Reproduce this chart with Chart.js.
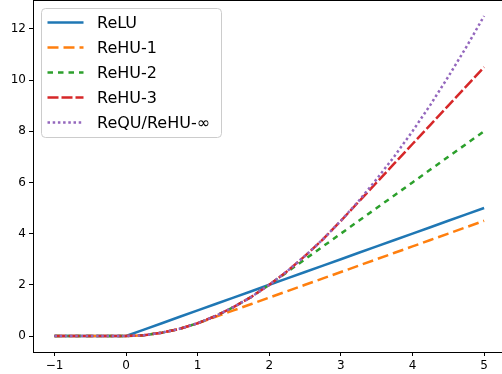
<!DOCTYPE html>
<html>
<head>
<meta charset="utf-8">
<script src="https://cdn.jsdelivr.net/npm/chart.js@4"></script>
<style>
  html, body { margin: 0; padding: 0; background: #fff; overflow: hidden; }
  #wrap { width: 502px; height: 374px; }
</style>
</head>
<body>
<div id="wrap"><canvas id="actChart" width="502" height="374"></canvas></div>
<script>
// x positions the curves were read at
var xs = [-1, -0.75, -0.5, -0.25, 0, 0.25, 0.5, 0.75, 1, 1.25, 1.5, 1.75, 2,
          2.25, 2.5, 2.75, 3, 3.25, 3.5, 3.75, 4, 4.25, 4.5, 4.75, 5];

var reluVals  = [0, 0, 0, 0, 0, 0.25, 0.5, 0.75, 1, 1.25, 1.5, 1.75, 2,
                 2.25, 2.5, 2.75, 3, 3.25, 3.5, 3.75, 4, 4.25, 4.5, 4.75, 5];
var rehu1Vals = [0, 0, 0, 0, 0, 0.03, 0.13, 0.28, 0.5, 0.75, 1, 1.25, 1.5,
                 1.75, 2, 2.25, 2.5, 2.75, 3, 3.25, 3.5, 3.75, 4, 4.25, 4.5];
var rehu2Vals = [0, 0, 0, 0, 0, 0.03, 0.13, 0.28, 0.5, 0.78, 1.13, 1.53, 2,
                 2.5, 3, 3.5, 4, 4.5, 5, 5.5, 6, 6.5, 7, 7.5, 8];
var rehu3Vals = [0, 0, 0, 0, 0, 0.03, 0.13, 0.28, 0.5, 0.78, 1.13, 1.53, 2,
                 2.53, 3.13, 3.78, 4.5, 5.25, 6, 6.75, 7.5, 8.25, 9, 9.75, 10.5];
var requVals  = [0, 0, 0, 0, 0, 0.03, 0.13, 0.28, 0.5, 0.78, 1.13, 1.53, 2,
                 2.53, 3.13, 3.78, 4.5, 5.28, 6.13, 7.03, 8, 9.03, 10.13, 11.28, 12.5];

var seriesNames = ['ReLU', 'ReHU-1', 'ReHU-2', 'ReHU-3', 'ReQU/ReHU-\u221e'];
var xTicks = [-1, 0, 1, 2, 3, 4, 5];
var yTicks = [0, 2, 4, 6, 8, 10, 12];

var FONT = 'DejaVu Sans';

function makeSet(i, vals, color, dash) {
    return {
        label: seriesNames[i],
        data: vals,
        borderColor: color,
        backgroundColor: color,
        borderWidth: 2.5,
        borderDash: dash,
        pointRadius: 0,
        tension: 0,
        fill: false,
        order: 5 - i  // later series on top, like matplotlib
    };
}

// box round the plot + matplotlib style legend in the upper left
var framePlugin = {
    id: 'frameLegend',
    afterDatasetsDraw: function(chart) {
        var c = chart.ctx, a = chart.chartArea;
        c.save();
        c.strokeStyle = '#000';
        c.lineWidth = 1;
        c.setLineDash([]);
        c.beginPath();
        c.moveTo(a.left, a.top + 0.5);
        c.lineTo(a.right, a.top + 0.5);
        c.stroke();

        var bx = a.left + 8.5, by = a.top + 8.5, bw = 180, bh = 129, r = 4;
        c.beginPath();
        c.moveTo(bx + r, by);
        c.arcTo(bx + bw, by, bx + bw, by + bh, r);
        c.arcTo(bx + bw, by + bh, bx, by + bh, r);
        c.arcTo(bx, by + bh, bx, by, r);
        c.arcTo(bx, by, bx + bw, by, r);
        c.closePath();
        c.fillStyle = 'rgba(255,255,255,0.8)';
        c.fill();
        c.strokeStyle = '#cccccc';
        c.stroke();

        c.font = '16px "' + FONT + '"';
        c.textBaseline = 'middle';
        c.textAlign = 'left';
        chart.data.datasets.forEach(function(ds, i) {
            var y = a.top + 22.5 + i * 25;
            c.strokeStyle = ds.borderColor;
            c.lineWidth = ds.borderWidth;
            c.setLineDash(ds.borderDash || []);
            c.beginPath();
            c.moveTo(a.left + 14.5, y);
            c.lineTo(a.left + 50.5, y);
            c.stroke();
            c.setLineDash([]);
            c.fillStyle = '#000';
            c.fillText(ds.label, a.left + 64, y + 1);
        });
        c.restore();
    }
};

var ctx = document.getElementById('actChart').getContext('2d');
var myChart = new Chart(ctx, {
    type: 'line',
    data: {
        labels: xs,
        datasets: [
            makeSet(0, reluVals, '#1f77b4', []),
            makeSet(1, rehu1Vals, '#ff7f0e', [11, 5]),
            makeSet(2, rehu2Vals, '#2ca02c', [5.5, 5]),
            makeSet(3, rehu3Vals, '#d62728', [11, 3]),
            makeSet(4, requVals, '#9467bd', [2.5, 2.7])
        ]
    },
    options: {
        responsive: false,
        animation: false,
        events: [],
        layout: { padding: 0 },
        plugins: {
            legend: { display: false },
            tooltip: { enabled: false }
        },
        scales: {
            x: {
                type: 'linear',
                min: -1.3,
                max: 5.25,
                afterFit: function(s) {
                    s.height = 22;
                    s.paddingLeft = 0; s.paddingRight = 0;
                },
                afterBuildTicks: function(s) {
                    s.ticks = xTicks.map(function(v) { return { value: v }; });
                },
                border: { display: true, color: '#000', width: 1 },
                grid: { drawOnChartArea: false, drawTicks: true, tickLength: 4, color: '#000' },
                ticks: {
                    padding: 3,
                    maxRotation: 0,
                    color: '#000',
                    font: { family: FONT, size: 12 },
                    callback: function(v) { return String(v).replace('-', '\u2212'); }
                }
            },
            y: {
                type: 'linear',
                min: -0.625,
                max: 13.125,
                afterFit: function(s) {
                    s.width = 33;
                    s.paddingTop = 0; s.paddingBottom = 0;
                },
                afterBuildTicks: function(s) {
                    s.ticks = yTicks.map(function(v) { return { value: v }; });
                },
                border: { display: true, color: '#000', width: 1 },
                grid: { drawOnChartArea: false, drawTicks: true, tickLength: 4, color: '#000' },
                ticks: {
                    padding: 3,
                    color: '#000',
                    font: { family: FONT, size: 12 }
                }
            }
        }
    },
    plugins: [framePlugin]
});
</script>
</body>
</html>
